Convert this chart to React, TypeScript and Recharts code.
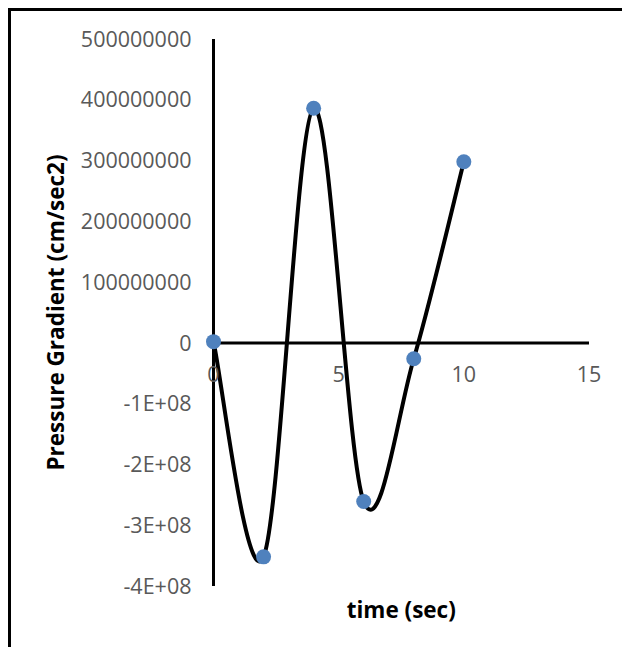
import {
	ComposedChart,
	Line,
	XAxis,
	YAxis,
	ReferenceLine,
	ReferenceDot,
	Label,
} from "recharts";

const timeSec = [0, 2, 4, 6, 8, 10];
const pressureGradient = [
	2000000, -352000000, 386000000, -261000000, -26000000, 298000000,
];

const xTicks = [0, 5, 10, 15];
const yTicks = [
	-400000000, -300000000, -200000000, -100000000, 0, 100000000, 200000000,
	300000000, 400000000, 500000000,
];
const yTickLabels = [
	"-4E+08",
	"-3E+08",
	"-2E+08",
	"-1E+08",
	"0",
	"100000000",
	"200000000",
	"300000000",
	"400000000",
	"500000000",
];

const data = timeSec.map((t, i) => ({t, g: pressureGradient[i]}));

const FONT = '"Open Sans", "Noto Sans", sans-serif';
const TICK_COLOR = "#595959";

// Spreadsheet-style smoothing: cubic Bezier through every point with
// Catmull-Rom tangents, endpoints repeated at the ends.
const smoothCurve = (context: any) => {
	let pts: number[][] = [];
	return {
		areaStart() {},
		areaEnd() {},
		lineStart() {
			pts = [];
		},
		point(x: number, y: number) {
			pts.push([+x, +y]);
		},
		lineEnd() {
			const n = pts.length;
			if (!n) return;
			context.moveTo(pts[0][0], pts[0][1]);
			for (let i = 0; i < n - 1; i++) {
				const p0 = pts[i - 1] || pts[i];
				const p1 = pts[i];
				const p2 = pts[i + 1];
				const p3 = pts[i + 2] || p2;
				context.bezierCurveTo(
					p1[0] + (p2[0] - p0[0]) / 6,
					p1[1] + (p2[1] - p0[1]) / 6,
					p2[0] - (p3[0] - p1[0]) / 6,
					p2[1] - (p3[1] - p1[1]) / 6,
					p2[0],
					p2[1],
				);
			}
		},
	};
};

const XTitle = ({viewBox}: any) => (
	<text
		x={viewBox.x + viewBox.width / 2}
		y={viewBox.y + 24}
		dy="0.35em"
		textAnchor="middle"
		fontFamily={FONT}
		fontWeight={700}
		fontSize={22.5}
		fill="#000"
	>
		time (sec)
	</text>
);

const YTitle = ({viewBox}: any) => {
	const cx = viewBox.x + 45.5;
	const cy = viewBox.y + viewBox.height / 2;
	return (
		<text
			x={cx}
			y={cy}
			dy="0.35em"
			textAnchor="middle"
			transform={`rotate(-90, ${cx}, ${cy})`}
			fontFamily={FONT}
			fontWeight={700}
			fontSize={22.5}
			fill="#000"
		>
			Pressure Gradient (cm/sec2)
		</text>
	);
};

export default function App() {
	return (
		<div
			style={{
				width: 622,
				height: 639,
				boxSizing: "border-box",
				borderLeft: "3px solid #000",
				borderTop: "3px solid #000",
				borderRight: "1px solid #8c8c8c",
				background: "#fff",
			}}
		>
			<ComposedChart
				width={618}
				height={636}
				data={data}
				margin={{top: 28, right: 40, bottom: 0, left: 0}}
			>
				<XAxis
					dataKey="t"
					type="number"
					domain={[0, 15]}
					ticks={xTicks}
					tick={false}
					tickLine={false}
					axisLine={false}
					height={61}
				>
					<Label content={<XTitle />} />
				</XAxis>
				<YAxis
					type="number"
					domain={[-400000000, 500000000]}
					ticks={yTicks}
					interval={0}
					width={202.5}
					tickSize={0}
					tickMargin={22}
					tickLine={false}
					axisLine={{stroke: "#000", strokeWidth: 3}}
					tick={{fill: TICK_COLOR, fontSize: 21.5, fontFamily: FONT}}
					tickFormatter={(v: number) => yTickLabels[yTicks.indexOf(v)] ?? ""}
				>
					<Label content={<YTitle />} />
				</YAxis>
				<ReferenceLine y={0} stroke="#000" strokeWidth={3} />
				{xTicks.map((t) => (
					<ReferenceDot
						key={t}
						x={t}
						y={0}
						r={0}
						fill="none"
						stroke="none"
						label={{
							value: String(t),
							position: "bottom",
							offset: 24,
							fill: TICK_COLOR,
							fontSize: 21.5,
							fontFamily: FONT,
						}}
					/>
				))}
				<Line
					dataKey="g"
					type={smoothCurve as any}
					stroke="#000"
					strokeWidth={4}
					dot={{r: 7.5, fill: "#4F81BD", stroke: "none"}}
					activeDot={false}
					isAnimationActive={false}
				/>
			</ComposedChart>
		</div>
	);
}
